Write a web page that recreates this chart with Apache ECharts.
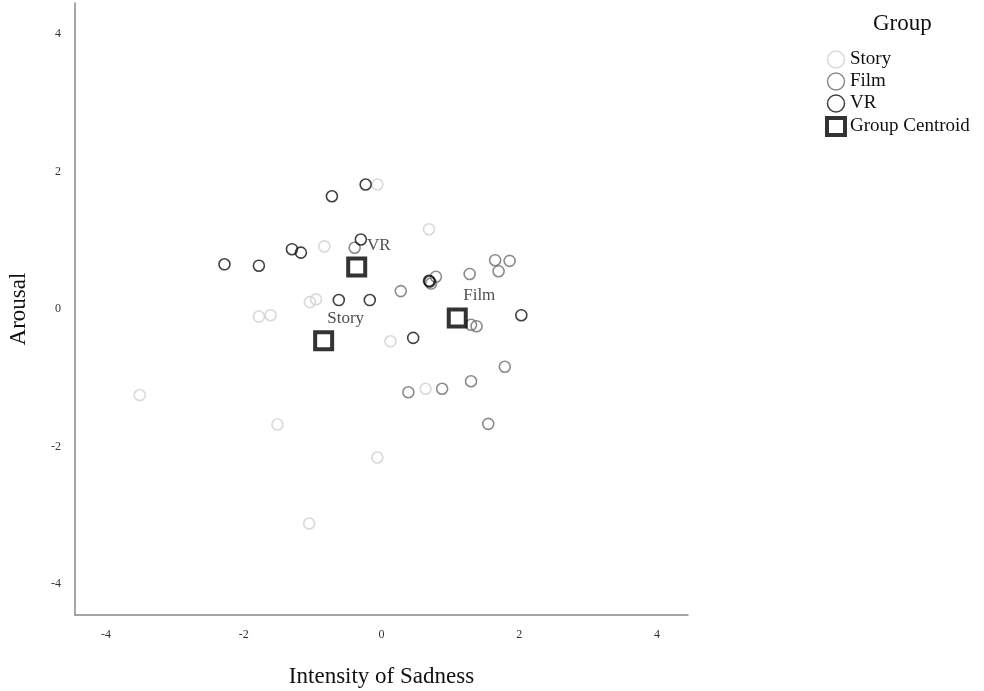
<!DOCTYPE html>
<html>
<head>
<meta charset="utf-8">
<script src="https://cdn.jsdelivr.net/npm/echarts@6/dist/echarts.min.js"></script>
<style>html,body{margin:0;padding:0;background:#fff;}#c{width:984px;height:691px;}</style>
</head>
<body>
<div id="c"></div>
<script>
var storyPoints = [[-0.06,1.81],[-0.83,0.91],[0.69,1.16],[-1.04,0.10],[-0.95,0.14],[-1.78,-0.11],[-1.61,-0.09],[0.13,-0.47],[-3.51,-1.25],[0.64,-1.16],[-1.51,-1.68],[-0.06,-2.16],[-1.05,-3.12]];
var filmPoints = [[-0.39,0.89],[0.28,0.26],[1.65,0.71],[1.86,0.70],[1.70,0.55],[1.28,0.51],[0.79,0.47],[0.72,0.37],[1.30,-0.23],[1.38,-0.25],[1.79,-0.84],[1.30,-1.05],[0.39,-1.21],[0.88,-1.16],[1.55,-1.67]];
var vrPoints = [[-0.23,1.81],[-0.72,1.64],[-0.30,1.01],[-1.30,0.87],[-1.17,0.82],[-2.28,0.65],[-1.78,0.63],[-0.62,0.13],[-0.17,0.13],[0.70,0.40],[0.69,0.41],[2.03,-0.09],[0.46,-0.42]];
var centroidNames = ['Story','Film','VR'];
var centroidPoints = [[-0.84,-0.46],[1.10,-0.13],[-0.36,0.61]];
var xTicks = [-4,-2,0,2,4];
var yTicks = [-4,-2,0,2,4];

var serif = '"Liberation Serif", "DejaVu Serif", serif';
var chart = echarts.init(document.getElementById('c'));
function circleSeries(name, data, color){
  return {
    name: name, type: 'scatter', data: data, symbol: 'circle', symbolSize: 11,
    itemStyle: { color: 'rgba(255,255,255,0)', borderColor: color, borderWidth: 1.6 },
    z: 2
  };
}
chart.setOption({
  animation: false,
  backgroundColor: '#fff',
  title: { text: 'Group', left: 873, top: 12, padding: 0, textStyle: { fontFamily: serif, fontSize: 23, fontWeight: 'normal', color: '#111' } },
  legend: {
    orient: 'vertical', left: 825, top: 50, padding: 0, itemGap: 3, itemWidth: 18, itemHeight: 17,
    textStyle: { fontFamily: serif, fontSize: 19, color: '#111' },
    data: [
      { name: 'Story', icon: 'circle', itemStyle: { color: '#fff', borderColor: '#cfcfcf', borderWidth: 1.5 } },
      { name: 'Film', icon: 'circle', itemStyle: { color: '#fff', borderColor: '#6e6e6e', borderWidth: 1.5 } },
      { name: 'VR', icon: 'circle', itemStyle: { color: '#fff', borderColor: '#111', borderWidth: 1.5 } },
      { name: 'Group Centroid', icon: 'rect', itemStyle: { color: '#fff', borderColor: '#000', borderWidth: 4 } }
    ]
  },
  grid: { left: 75, right: 296, top: 3, bottom: 76, outerBoundsMode: 'none', containLabel: false },
  xAxis: {
    type: 'value', min: -4.45, max: 4.45, interval: 2,
    name: 'Intensity of Sadness', nameLocation: 'middle', nameGap: 50,
    nameTextStyle: { fontFamily: serif, fontSize: 23, color: '#111' },
    axisLine: { show: true, onZero: false, lineStyle: { color: '#888', width: 1.5 } },
    axisTick: { show: false }, splitLine: { show: false },
    axisLabel: { fontFamily: serif, fontSize: 12, color: '#333', margin: 14,
      customValues: xTicks, formatter: function(v){ return String(v); } }
  },
  yAxis: {
    type: 'value', min: -4.45, max: 4.45, interval: 2,
    name: 'Arousal', nameLocation: 'middle', nameGap: 45, nameRotate: 90,
    nameTextStyle: { fontFamily: serif, fontSize: 23, color: '#111' },
    axisLine: { show: true, onZero: false, lineStyle: { color: '#888', width: 1.5 } },
    axisTick: { show: false }, splitLine: { show: false },
    axisLabel: { fontFamily: serif, fontSize: 12, color: '#333', margin: 14,
      customValues: yTicks, formatter: function(v){ return String(v); } }
  },
  series: [
    circleSeries('Story', storyPoints, '#cfcfcf'),
    circleSeries('Film', filmPoints, '#6e6e6e'),
    circleSeries('VR', vrPoints, '#111'),
    {
      name: 'Group Centroid', type: 'scatter', symbol: 'rect', symbolSize: 17, z: 5,
      itemStyle: { color: '#fff', borderColor: '#000', borderWidth: 4 },
      data: centroidPoints.map(function(p, i){ return { value: p, name: centroidNames[i] }; }),
      label: { show: true, position: 'inside', offset: [22, -22], formatter: '{b}',
        fontFamily: serif, fontSize: 17, color: '#222' }
    }
  ]
});
</script>
</body>
</html>
